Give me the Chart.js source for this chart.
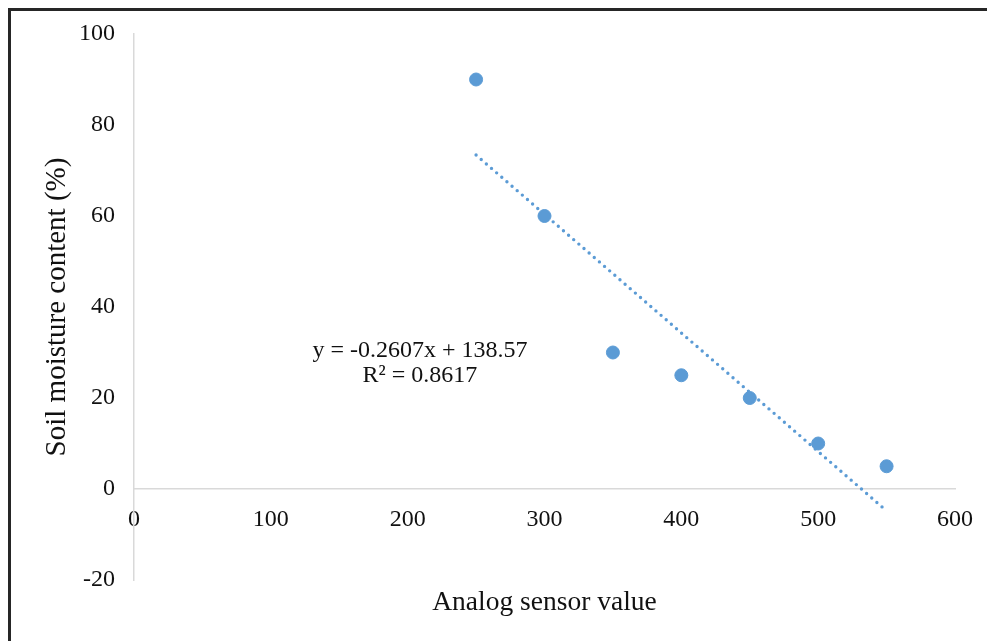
<!DOCTYPE html>
<html>
<head>
<meta charset="utf-8">
<script src="https://cdn.jsdelivr.net/npm/chart.js@4.4.1/dist/chart.umd.min.js"></script>
<style>
  html, body { margin: 0; padding: 0; background: #fff; overflow: hidden; }
  #wrap { position: relative; width: 987px; height: 641px; }
  #frame {
    position: absolute; left: 8px; top: 8px; width: 990px; height: 700px;
    border-top: 3px solid #262626; border-left: 3px solid #262626;
    pointer-events: none;
  }
  canvas { position: absolute; left: 0; top: 0; }
</style>
</head>
<body>
<div id="wrap">
  <canvas id="soilChart" width="987" height="641"></canvas>
  <div id="frame"></div>
</div>
<script>
// measured points (sensor reading -> soil moisture %)
const sensorValues = [250, 300, 350, 400, 450, 500, 550];
const moistureValues = [90, 60, 30, 25, 20, 10, 5];

// linear trendline ends
const trendX = [250, 550];
const trendY = [73.4, -4.8];

const equationText = "y = -0.2607x + 138.57";
const rSquaredText = "R\u00b2 = 0.8617";
// where the equation sits, in data units
const equationPos = { x: 209, y1: 30.3, y2: 24.9 };

const blue = "#5B9BD5";
const axisGray = "#d9d9d9";
const textColor = "#111";
const serif = "'Liberation Serif', 'Times New Roman', serif";

const equationLabel = {
    id: "equationLabel",
    afterDatasetsDraw(chart) {
        const ctx = chart.ctx;
        const x = chart.scales.x;
        const y = chart.scales.y;
        ctx.save();
        ctx.fillStyle = textColor;
        ctx.font = "24px " + serif;
        ctx.textAlign = "center";
        ctx.textBaseline = "middle";
        ctx.fillText(equationText, x.getPixelForValue(equationPos.x), y.getPixelForValue(equationPos.y1));
        ctx.fillText(rSquaredText, x.getPixelForValue(equationPos.x), y.getPixelForValue(equationPos.y2));
        ctx.restore();
    }
};

const ctx = document.getElementById("soilChart").getContext("2d");

const chart = new Chart(ctx, {
    type: "scatter",
    data: {
        datasets: [
            {
                label: "Soil moisture",
                data: sensorValues.map((v, i) => ({ x: v, y: moistureValues[i] })),
                backgroundColor: blue,
                borderColor: blue,
                pointRadius: 6.5,
                pointHoverRadius: 6.5,
                order: 1
            },
            {
                label: "Linear trend",
                type: "line",
                data: trendX.map((v, i) => ({ x: v, y: trendY[i] })),
                borderColor: blue,
                borderWidth: 3.4,
                borderDash: [0, 6.8],
                borderCapStyle: "round",
                pointRadius: 0,
                fill: false,
                order: 2
            }
        ]
    },
    options: {
        responsive: false,
        animation: false,
        layout: { padding: { left: 20, top: 34, right: 32, bottom: 0 } },
        plugins: {
            legend: { display: false },
            tooltip: { enabled: false }
        },
        scales: {
            x: {
                type: "linear",
                min: 0,
                max: 600,
                position: { y: 0 },
                grid: { display: false, drawTicks: false },
                border: { display: true, color: axisGray, width: 1.5 },
                ticks: {
                    stepSize: 100,
                    padding: 16,
                    color: textColor,
                    font: { family: serif, size: 24 }
                },
                afterFit(scale) {
                    // labels may spill past the plot edges, like the original
                    scale.paddingLeft = 0;
                    scale.paddingRight = 0;
                }
            },
            x2: {
                type: "linear",
                min: 0,
                max: 600,
                position: "bottom",
                grid: { display: false, drawTicks: false },
                border: { display: false },
                ticks: { display: false },
                title: {
                    display: true,
                    text: "Analog sensor value",
                    color: textColor,
                    font: { family: serif, size: 27.5 },
                    padding: { top: 0, bottom: 22 }
                },
                afterFit(scale) { scale.height = 61; }
            },
            y: {
                type: "linear",
                min: -20,
                max: 100,
                position: "left",
                grid: { display: false, drawTicks: false },
                border: { display: true, color: axisGray, width: 1.5 },
                ticks: {
                    stepSize: 20,
                    padding: 19,
                    color: textColor,
                    font: { family: serif, size: 24 }
                },
                title: {
                    display: true,
                    text: "Soil moisture content (%)",
                    color: textColor,
                    font: { family: serif, size: 29 },
                    padding: { top: 20, bottom: 0 }
                },
                afterFit(scale) { scale.width = 114; }
            }
        }
    },
    plugins: [equationLabel]
});
</script>
</body>
</html>
